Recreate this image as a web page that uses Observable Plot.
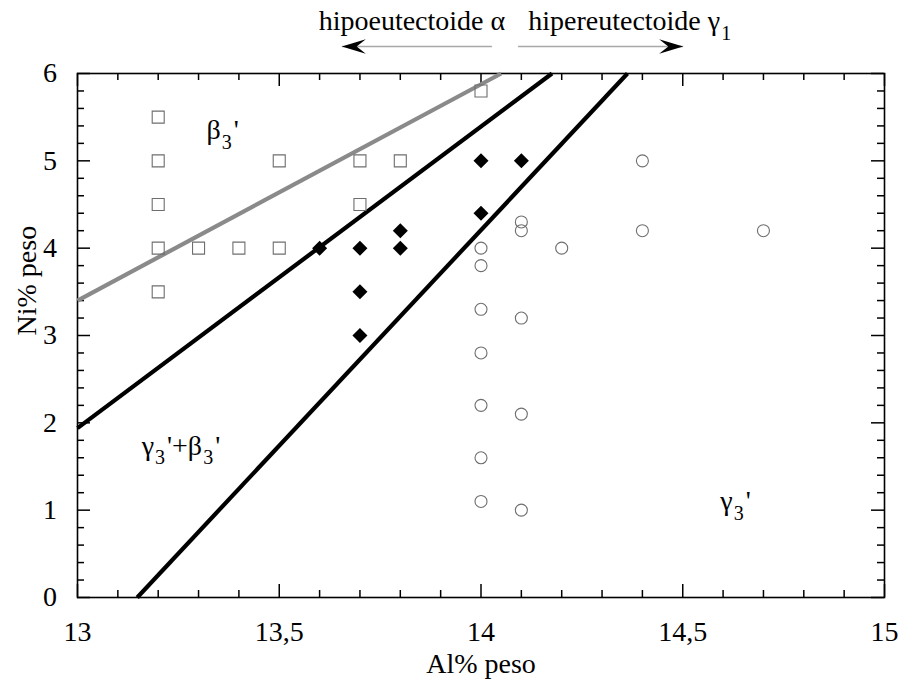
<!DOCTYPE html>
<html>
<head>
<meta charset="utf-8">
<script src="https://cdn.jsdelivr.net/npm/d3@7"></script>
<script src="https://cdn.jsdelivr.net/npm/@observablehq/plot@0.6"></script>
<style>
  html, body { margin: 0; padding: 0; background: #fff; font-family: "Liberation Serif", serif; }
  #chart svg { display: block; overflow: visible; max-width: none; background: #fff; }
</style>
</head>
<body>
<div id="chart"></div>
<script>
// ---------- data ----------
const squareAl = [13.2, 13.2, 13.2, 13.2, 13.2, 13.3, 13.4, 13.5, 13.5, 13.7, 13.7, 13.8, 14.0];
const squareNi = [5.5, 5.0, 4.5, 4.0, 3.5, 4.0, 4.0, 4.0, 5.0, 5.0, 4.5, 5.0, 5.8];

const diamondAl = [13.6, 13.7, 13.7, 13.7, 13.8, 13.8, 14.0, 14.0, 14.1];
const diamondNi = [4.0, 4.0, 3.5, 3.0, 4.2, 4.0, 5.0, 4.4, 5.0];

const circleAl = [14.0, 14.0, 14.0, 14.0, 14.0, 14.0, 14.0, 14.1, 14.1, 14.1, 14.1, 14.1, 14.2, 14.4, 14.4, 14.7];
const circleNi = [4.0, 3.8, 3.3, 2.8, 2.2, 1.6, 1.1, 4.3, 4.2, 3.2, 2.1, 1.0, 4.0, 5.0, 4.2, 4.2];

const grayLineAl = [13.0, 14.05];
const grayLineNi = [3.4, 6.0];
const boundary1Al = [13.0, 14.176];
const boundary1Ni = [1.94, 6.0];
const boundary2Al = [13.148, 14.363];
const boundary2Ni = [0.0, 6.0];

const regionText = ["β_3'", "γ_3'+β_3'", "γ_3'"];
const regionAl = [13.32, 13.159, 14.593];
const regionNi = [5.35, 1.74, 1.10];

const topText = ["hipoeutectoide α", "hipereutectoide γ_1"];
const topAl = [14.06, 14.117];
const topNi = [6.60, 6.60];
const topAnchor = ["end", "start"];

const arrowFromAl = [14.027, 14.092];
const arrowTipAl = [13.655, 14.501];
const arrowNi = [6.31, 6.31];
const arrowRotate = [180, 0];

const xMajor = [13, 13.5, 14, 14.5, 15];
const xMinor = [13.1, 13.2, 13.3, 13.4, 13.6, 13.7, 13.8, 13.9, 14.1, 14.2, 14.3, 14.4, 14.6, 14.7, 14.8, 14.9];
const yMajor = [0, 1, 2, 3, 4, 5, 6];
const yMinor = [0.2, 0.4, 0.6, 0.8, 1.2, 1.4, 1.6, 1.8, 2.2, 2.4, 2.6, 2.8, 3.2, 3.4, 3.6, 3.8, 4.2, 4.4, 4.6, 4.8, 5.2, 5.4, 5.6, 5.8];

const xLabel = "Al% peso";
const yLabel = "Ni% peso";

// ---------- build tables ----------
const zip = (a, b) => a.map((v, i) => ({al: v, ni: b[i]}));
const squares = zip(squareAl, squareNi);
const diamonds = zip(diamondAl, diamondNi);
const circles = zip(circleAl, circleNi);
const grayLine = zip(grayLineAl, grayLineNi);
const boundary1 = zip(boundary1Al, boundary1Ni);
const boundary2 = zip(boundary2Al, boundary2Ni);
const regions = regionText.map((t, i) => ({t, al: regionAl[i], ni: regionNi[i]}));
const tops = topText.map((t, i) => ({t, al: topAl[i], ni: topNi[i], anchor: topAnchor[i]}));
const arrows = arrowFromAl.map((a, i) => ({from: a, tip: arrowTipAl[i], ni: arrowNi[i], rot: arrowRotate[i]}));

// ---------- layout ----------
const W = 898, H = 680;
const mL = 77, mR = 14, mT = 73, mB = 83;
const innerW = W - mL - mR, innerH = H - mT - mB;
const FONT = "'Liberation Serif', 'DejaVu Serif', serif";
const FS = 28;
const majorLen = 13, minorLen = 7;

// custom symbols
const diamondSym = {draw(ctx, size) { const r = Math.sqrt(size / Math.PI); ctx.moveTo(0, -r); ctx.lineTo(r, 0); ctx.lineTo(0, r); ctx.lineTo(-r, 0); ctx.closePath(); }};
const squareSym = {draw(ctx, size) { const r = Math.sqrt(size / Math.PI); ctx.rect(-r, -r, 2 * r, 2 * r); }};
const stealthSym = {draw(ctx, size) { const r = Math.sqrt(size / Math.PI); const L = 2 * r, w = 0.6 * r; ctx.moveTo(0, 0); ctx.lineTo(-L, -w); ctx.lineTo(-0.62 * L, 0); ctx.lineTo(-L, w); ctx.closePath(); }};

const fmt = d => String(d).replace(".", ",");
const T = {fontSize: FS, fill: "black", lineAnchor: "middle"};

const chart = Plot.plot({
  width: W, height: H,
  marginLeft: mL, marginRight: mR, marginTop: mT, marginBottom: mB,
  x: {domain: [13, 15], axis: null},
  y: {domain: [0, 6], axis: null},
  marks: [
    // ticks (inward, all four sides)
    Plot.tickX(xMajor, {x: d => d, insetTop: innerH - majorLen, stroke: "black", strokeWidth: 1.5}),
    Plot.tickX(xMinor, {x: d => d, insetTop: innerH - minorLen, stroke: "black", strokeWidth: 1.5}),
    Plot.tickX(xMajor, {x: d => d, insetBottom: innerH - majorLen, stroke: "black", strokeWidth: 1.5}),
    Plot.tickX(xMinor, {x: d => d, insetBottom: innerH - minorLen, stroke: "black", strokeWidth: 1.5}),
    Plot.tickY(yMajor, {y: d => d, insetRight: innerW - majorLen, stroke: "black", strokeWidth: 1.5}),
    Plot.tickY(yMinor, {y: d => d, insetRight: innerW - minorLen, stroke: "black", strokeWidth: 1.5}),
    Plot.tickY(yMajor, {y: d => d, insetLeft: innerW - majorLen, stroke: "black", strokeWidth: 1.5}),
    Plot.tickY(yMinor, {y: d => d, insetLeft: innerW - minorLen, stroke: "black", strokeWidth: 1.5}),
    Plot.frame({stroke: "black", strokeWidth: 1.6}),

    // tick labels
    Plot.text(xMajor, {...T, x: d => d, frameAnchor: "bottom", dy: 34.5, text: fmt}),
    Plot.text(yMajor, {...T, y: d => d, frameAnchor: "left", dx: -20.5, text: fmt, textAnchor: "end"}),

    // axis labels
    Plot.text([xLabel], {...T, x: 14, frameAnchor: "bottom", dy: 67, text: d => d}),
    Plot.text([yLabel], {...T, y: 3, frameAnchor: "left", dx: -50, rotate: -90, text: d => d}),

    // phase boundary lines
    Plot.line(grayLine, {x: "al", y: "ni", stroke: "#8a8a8a", strokeWidth: 4.2, strokeLinecap: "butt"}),
    Plot.line(boundary1, {x: "al", y: "ni", stroke: "black", strokeWidth: 4.2, strokeLinecap: "butt"}),
    Plot.line(boundary2, {x: "al", y: "ni", stroke: "black", strokeWidth: 4.2, strokeLinecap: "butt"}),

    // data points
    Plot.dot(squares, {x: "al", y: "ni", symbol: squareSym, r: 6, stroke: "#6e6e6e", strokeWidth: 1.1, fill: "none"}),
    Plot.dot(circles, {x: "al", y: "ni", symbol: "circle", r: 6, stroke: "#6e6e6e", strokeWidth: 1.1, fill: "none"}),
    Plot.dot(diamonds, {x: "al", y: "ni", symbol: diamondSym, r: 7.5, fill: "black", stroke: "none"}),

    // region labels
    Plot.text(regions, {...T, x: "al", y: "ni", text: "t", textAnchor: "start"}),

    // top annotations
    Plot.text(tops.filter(d => d.anchor === "end"), {...T, x: "al", y: "ni", text: "t", textAnchor: "end"}),
    Plot.text(tops.filter(d => d.anchor === "start"), {...T, x: "al", y: "ni", text: "t", textAnchor: "start"}),
    Plot.link(arrows, {x1: "from", x2: "tip", y1: "ni", y2: "ni", stroke: "#a8a8a8", strokeWidth: 1.6}),
    Plot.dot(arrows, {x: "tip", y: "ni", symbol: stealthSym, r: 12, rotate: "rot", fill: "black", stroke: "none"})
  ]
});

// subscripts: "X_3" -> X with lowered small digit
const SUB_FS = 20, SUB_DY = 10;
d3.select(chart).selectAll("text").each(function () {
  const t = this.textContent;
  if (!t.includes("_")) return;
  const parts = t.split(/_(\d)/);
  this.textContent = "";
  const sel = d3.select(this);
  parts.forEach((p, i) => {
    if (p === "") return;
    const ts = sel.append("tspan").text(p);
    if (i % 2 === 1) ts.attr("dy", SUB_DY).style("font-size", SUB_FS + "px").attr("dx", 1);
    else if (i > 0) ts.attr("dy", -SUB_DY).attr("dx", 2);
  });
});

// serif face on every text node, set inline
d3.select(chart).style("font-family", FONT);
d3.select(chart).selectAll("text").style("font-family", FONT).attr("font-family", FONT);

document.getElementById("chart").appendChild(chart);
</script>
</body>
</html>
